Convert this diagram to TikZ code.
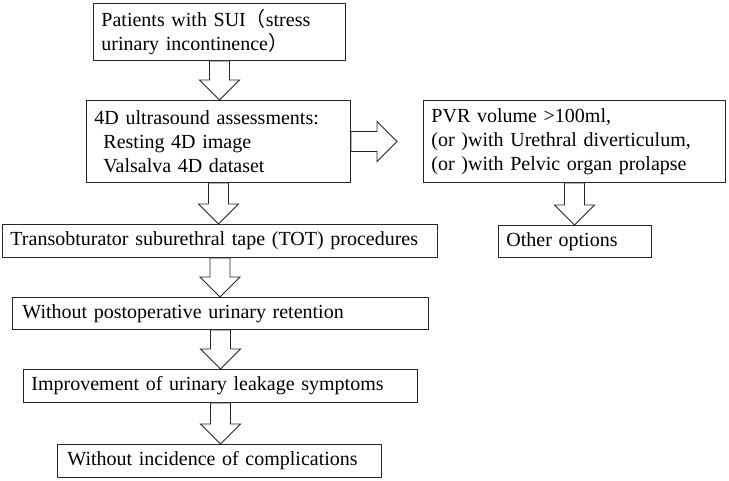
\documentclass[tikz,border=0pt]{standalone}
\usepackage{fontspec}
\setmainfont{Liberation Serif}
\newfontfamily\cjk{Noto Sans CJK SC}
\usetikzlibrary{calc}
\tikzset{
  box/.style={draw=black!85, line width=0.9pt, anchor=north west, inner xsep=8pt, inner ysep=0pt,
    align=left, font=\fontsize{20}{24}\selectfont},
  blk/.style={draw=black!85, line width=0.9pt, fill=white, line join=miter}
}
\newcommand\blkdown[2]{\draw[blk] let \p1=(#1), \p2=(#2) in
  (\x1-10pt,\y1) -- (\x1+10pt,\y1) -- (\x1+10pt,\y2+20pt) -- (\x1+20pt,\y2+20pt) -- (\x1,\y2)
  -- (\x1-20pt,\y2+20pt) -- (\x1-10pt,\y2+20pt) -- cycle;}
\newcommand\blkright[2]{\draw[blk] let \p1=(#1), \p2=(#2) in
  (\x1,\y1+10pt) -- (\x1,\y1-10pt) -- (\x2-20pt,\y1-10pt) -- (\x2-20pt,\y1-20pt) -- (\x2,\y1)
  -- (\x2-20pt,\y1+20pt) -- (\x2-20pt,\y1+10pt) -- cycle;}
\begin{document}
\begin{tikzpicture}[x=1pt,y=-1pt]
\useasboundingbox (0,0) rectangle (729,480);
\node[box, minimum width=252pt, minimum height=57pt, text width=236pt] (b1) at (93,3)
  {Patients with SUI{\cjk （}stress\\urinary incontinence{\cjk ）}};
\node[box, minimum width=264pt, minimum height=82pt, text width=248pt] (b2) at (86,100)
  {4D ultrasound assessments:\\\hspace*{9pt}Resting 4D image\\\hspace*{9pt}Valsalva 4D dataset};
\node[box, minimum width=302pt, minimum height=82pt, text width=286pt] (b3) at (423,100)
  {PVR volume {>}100ml,\\(or )with Urethral diverticulum,\\(or )with Pelvic organ prolapse};
\node[box, minimum width=153pt, minimum height=32pt, text width=137pt] (b4) at (498,225)
  {Other options};
\node[box, minimum width=435pt, minimum height=33pt, text width=419pt] (b5) at (2,224)
  {Transobturator suburethral tape (TOT) procedures};
\node[box, minimum width=416pt, minimum height=32pt, text width=400pt] (b6) at (12,297)
  {\hspace*{2pt}Without postoperative urinary retention};
\node[box, minimum width=394pt, minimum height=33pt, text width=378pt] (b7) at (23,369)
  {Improvement of urinary leakage symptoms};
\node[box, minimum width=324pt, minimum height=33pt, text width=308pt] (b8) at (57,444)
  {\hspace*{2pt}Without incidence of complications};
\coordinate (rt) at ($(b3.west)+(-26,0)$);
\blkdown{b1.south}{b2.north}
\blkdown{b2.south}{b5.north}
\blkdown{b5.south}{b6.north}
\blkdown{b6.south}{b7.north}
\blkdown{b7.south}{b8.north}
\blkdown{b3.south}{b4.north}
\blkright{b2.east}{rt}
\end{tikzpicture}
\end{document}
